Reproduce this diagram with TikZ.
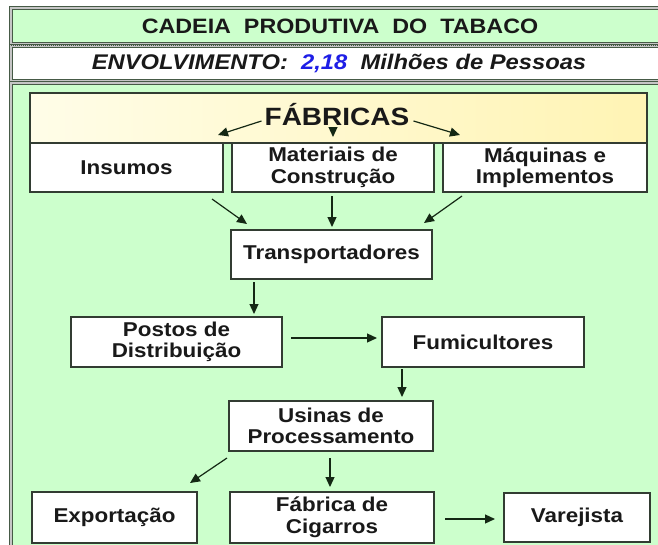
\documentclass[tikz,border=0pt]{standalone}
\usepackage{fontspec}
\setmainfont{Liberation Sans}[FakeStretch=1.12]
\usetikzlibrary{arrows.meta}
\definecolor{panelgreen}{RGB}{204,255,204}
\definecolor{framec}{RGB}{70,90,70}
\definecolor{boxline}{RGB}{50,60,50}
\definecolor{ink}{RGB}{25,25,25}
\definecolor{arrowc}{RGB}{20,40,20}
\definecolor{yelL}{RGB}{255,253,232}
\definecolor{yelR}{RGB}{255,244,180}
\definecolor{numblue}{RGB}{30,30,230}
\begin{document}
\begin{tikzpicture}[x=1pt,y=-1pt,
  band/.style={draw=framec, line width=1pt, double=gray!45, double distance=1.6pt},
  box/.style={draw=boxline, line width=1.1pt, fill=white, align=center,
    font=\fontsize{20}{21.5}\selectfont\bfseries, text=ink, inner sep=0pt, outer sep=0pt},
  arr/.style={draw=arrowc, line width=1.2pt, -{Triangle[length=10pt,width=9pt]}},
]
\useasboundingbox (0,0) rectangle (658,544);
\clip (0,0) rectangle (658,544);
% bands
\path[band, fill=panelgreen] (11,8) rectangle (675,44);
\path[band, fill=white] (11,46) rectangle (675,81);
\path[band, fill=panelgreen] (11,83) rectangle (675,570);
\draw[framec, line width=1.6pt, dash pattern=on 1pt off 1pt] (11,45) -- (675,45);
% header texts
\node[font=\fontsize{20.8}{22}\selectfont\bfseries, text=ink] (title) at (340,26)
  {CADEIA\ \ PRODUTIVA\ \ DO\ \ TABACO};
\node[font=\fontsize{21.2}{22}\selectfont\bfseries\itshape, text=ink] (envol) at (339,63)
  {ENVOLVIMENTO:\ \ \textcolor{numblue}{2,18}\ \ Milhões de Pessoas};
% yellow box
\node[draw=boxline, line width=1.1pt, left color=yelL, right color=yelR,
  minimum width=617pt, minimum height=50pt, inner sep=0pt, outer sep=0pt] (fabbox) at (338.5,118) {};
\node[font=\fontsize{25}{27}\selectfont\bfseries, text=ink, inner sep=0pt] (fab) at (337,115) {FÁBRICAS};
% boxes
\node[box, minimum width=193pt, minimum height=49pt] (ins) at (126.5,167.5) {Insumos};
\node[box, minimum width=202pt, minimum height=49pt] (mat) at (333,167.5) {Materiais de\\Construção};
\node[box, minimum width=204pt, minimum height=49pt] (mq) at (545,167.5) {Máquinas e\\Implementos};
\node[box, minimum width=201pt, minimum height=49pt] (tr) at (331.5,254.5) {Transportadores};
\node[box, minimum width=211pt, minimum height=50pt] (po) at (176.5,342) {Postos de\\Distribuição};
\node[box, minimum width=202pt, minimum height=50pt] (fu) at (483,342) {Fumicultores};
\node[box, minimum width=204pt, minimum height=50pt] (us) at (331,426) {Usinas de\\Processamento};
\node[box, minimum width=165pt, minimum height=51pt] (ex) at (114.5,517.5) {Exportação};
\node[box, minimum width=204pt, minimum height=51pt] (fc) at (332,517.5) {Fábrica de\\Cigarros};
\node[box, minimum width=146pt, minimum height=49pt] (va) at (577,517.5) {Varejista};
% arrows from FÁBRICAS
\draw[arr] ([shift={(-3,6)}]fab.west) -- ([shift={(-5,-8)}]ins.north east);
\draw[arr] ([shift={(0,-15)}]mat.north) -- ([shift={(0,-6)}]mat.north);
\draw[arr] ([shift={(4,6)}]fab.east) -- ([shift={(17,-8)}]mq.north west);
% flow arrows
\draw[arr] ([shift={(-11,7)}]ins.south east) -- ([shift={(16,-6)}]tr.north west);
\draw[arr] ([shift={(-1,4)}]mat.south) -- ([shift={(-1,-3)}]tr.north -| mat.south);
\draw[arr] ([shift={(19,4)}]mq.south west) -- ([shift={(-8,-7)}]tr.north east);
\draw[arr] ([shift={(23,3)}]tr.south west) -- ([shift={(-28,-3)}]po.north east);
\draw[arr] ([shift={(9,-4)}]po.east) -- ([shift={(-5,-4)}]fu.west);
\draw[arr] ([shift={(20,2)}]fu.south west) -- ([shift={(-31,-4)}]us.north east);
\draw[arr] ([shift={(-2,7)}]us.south west) -- ([shift={(-7,-9)}]ex.north east);
\draw[arr] ([shift={(-1,7)}]us.south) -- ([shift={(-2,-5)}]fc.north);
\draw[arr] ([shift={(11,1.5)}]fc.east) -- ([shift={(-9,1.5)}]va.west);
\end{tikzpicture}
\end{document}
